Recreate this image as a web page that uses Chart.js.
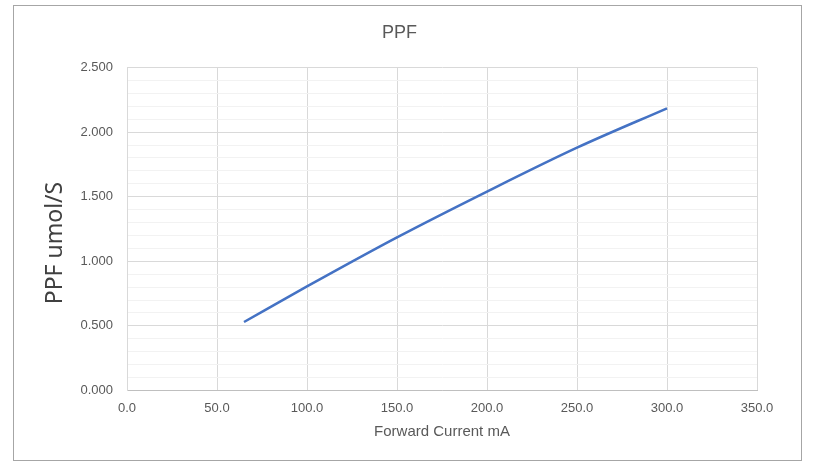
<!DOCTYPE html>
<html>
<head>
<meta charset="utf-8">
<script src="https://cdn.jsdelivr.net/npm/chart.js@4.4.0/dist/chart.umd.min.js"></script>
<style>
  body { margin: 0; background: #fff; }
  #frame { position: absolute; left: 13px; top: 5px; width: 787px; height: 454px; border: 1px solid #a6a6a6; }
  #wrap { position: absolute; left: 0; top: 0; width: 836px; height: 472px; }
</style>
</head>
<body>
<div id="frame"></div>
<div id="wrap"><canvas id="myChart" width="836" height="472"></canvas></div>
<script>
'use strict';
// forward current (mA) and PPF (umol/S)
const currents = [65, 100, 150, 200, 250, 300];
const ppfValues = [0.53, 0.805, 1.185, 1.54, 1.88, 2.185];
const yMajorTicks = [0, 0.5, 1, 1.5, 2, 2.5];
const yTitle = 'PPF umol/S';

const ctx = document.getElementById('myChart');
const tickFont = { family: 'Liberation Sans Narrow, Liberation Sans', size: 13 };

let points = [];
for (let i = 0; i < currents.length; i++) {
  points.push({ x: currents[i], y: ppfValues[i] });
}

function isMajor(v) {
  return yMajorTicks.some(m => Math.abs(m - v) < 1e-6);
}

// y axis title sits a bit below the plot centre, like the original
const yTitlePlugin = {
  id: 'yTitle',
  afterDraw(chart) {
    const c = chart.ctx;
    const area = chart.chartArea;
    c.save();
    c.translate(55, (area.top + area.bottom) / 2 + 14);
    c.rotate(-Math.PI / 2);
    c.font = '23px "Noto Sans", "Liberation Sans"';
    c.fillStyle = '#404040';
    c.textAlign = 'center';
    c.textBaseline = 'middle';
    c.fillText(yTitle, 0, 0);
    c.restore();
  }
};

new Chart(ctx, {
  type: 'line',
  data: {
    datasets: [{
      label: 'PPF',
      data: points,
      borderColor: '#4472C4',
      borderWidth: 2.5,
      pointRadius: 0,
      tension: 0.3,
      cubicInterpolationMode: 'monotone',
      fill: false
    }]
  },
  options: {
    responsive: false,
    animation: false,
    layout: { padding: { left: 42, right: 79, top: 0, bottom: 31 } },
    plugins: {
      legend: { display: false },
      tooltip: { enabled: false },
      title: {
        display: true,
        text: 'PPF',
        color: '#595959',
        font: { family: 'Liberation Sans Narrow, Liberation Sans', size: 18, weight: 'normal' },
        padding: { top: 22, bottom: 24 }
      }
    },
    scales: {
      x: {
        type: 'linear',
        min: 0,
        max: 350,
        ticks: {
          stepSize: 50,
          color: '#595959',
          font: tickFont,
          padding: 10,
          maxRotation: 0,
          callback: v => v.toFixed(1)
        },
        grid: { color: '#d9d9d9', drawTicks: false },
        border: { color: '#bfbfbf' },
        title: {
          display: true,
          text: 'Forward Current mA',
          color: '#595959',
          font: { family: 'Liberation Sans Narrow, Liberation Sans', size: 15 },
          padding: { top: -3, bottom: 0 }
        }
      },
      y: {
        min: 0,
        max: 2.5,
        ticks: {
          stepSize: 0.1,
          autoSkip: false,
          color: '#595959',
          font: tickFont,
          padding: 14,
          callback: v => isMajor(v) ? v.toFixed(3) : ''
        },
        grid: {
          drawTicks: false,
          color: c => isMajor(c.tick.value) ? '#d9d9d9' : '#f2f2f2'
        },
        border: { color: '#d9d9d9' },
        afterFit: scale => { scale.width = 85; },
        title: { display: false }
      }
    }
  },
  plugins: [yTitlePlugin]
});
</script>
</body>
</html>
